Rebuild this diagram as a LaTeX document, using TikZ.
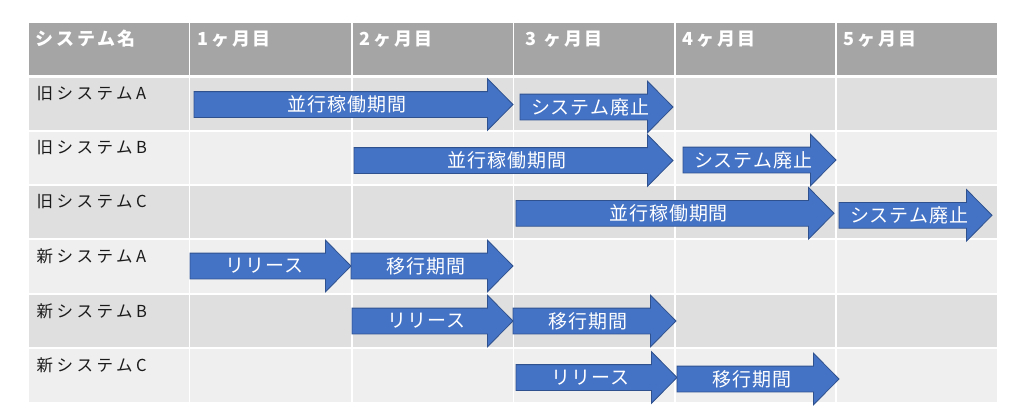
\documentclass[tikz,border=0pt]{standalone}
\usepackage{fontspec}
\setmainfont{Noto Sans CJK JP}
\newfontfamily\lblfont[LetterSpace=21]{Noto Sans CJK JP}
\newfontfamily\hdrfont[LetterSpace=15]{Noto Sans CJK JP}
\newfontfamily\arrfont[LetterSpace=5]{Noto Sans CJK JP}
\definecolor{hdrgray}{HTML}{A5A5A5}
\definecolor{rowdark}{HTML}{DFDFDF}
\definecolor{rowlight}{HTML}{EFEFEF}
\definecolor{arrfill}{HTML}{4472C4}
\definecolor{arrline}{HTML}{2F528F}
\definecolor{lbltext}{HTML}{1A1A1A}
\tikzset{
  hdrtext/.style={anchor=west, inner sep=0pt, text=white, font=\hdrfont\bfseries\fontsize{18}{21}\selectfont},
  lbltextstyle/.style={anchor=west, inner sep=0pt, text=lbltext, font=\lblfont\fontsize{16.5}{19}\selectfont},
  arrowshape/.style={fill=arrfill, draw=arrline, line width=0.8pt, line join=miter},
  arrowtext/.style={inner sep=0pt, text=white, font=\arrfont\fontsize{19}{22}\selectfont},
  gridline/.style={draw=white, line width=1.6pt},
}
\newcommand\blockarrow[5]{%
  \draw[arrowshape] (#2,#4-12.9) -- (#3-25.5,#4-12.9) -- (#3-25.5,#4-25.8) -- (#3,#4)
    -- (#3-25.5,#4+25.8) -- (#3-25.5,#4+12.9) -- (#2,#4+12.9) -- cycle;
  \node[arrowtext] (#1) at ({(2*#2+#3-25.5+#3)/4},#4) {#5};
}
\begin{document}
\begin{tikzpicture}[x=1pt,y=-1pt]
\fill[white] (0,0) rectangle (1024,416);
\useasboundingbox (0,0) rectangle (1024,416);
% table body
\fill[hdrgray] (29,23) rectangle (997,76);
\fill[rowdark]  (29,76)  rectangle (997,131);
\fill[rowlight] (29,131) rectangle (997,185);
\fill[rowdark]  (29,185) rectangle (997,239);
\fill[rowlight] (29,239) rectangle (997,294);
\fill[rowdark]  (29,294) rectangle (997,348);
\fill[rowlight] (29,348) rectangle (997,402);
% grid lines
\draw[gridline, line width=2.6pt] (29,76.5) -- (997,76.5);
\foreach \yy in {131,185,239,294,348} \draw[gridline] (29,\yy) -- (997,\yy);
\foreach \xx in {189.5,352,513.5,675,836} \draw[gridline] (\xx,23) -- (\xx,402);
% header
\node[hdrtext] (h0) at (35.5,39) {システム名};
\node[hdrtext] (h1) at (197.5,39) {1ヶ月目};
\node[hdrtext] (h2) at (359.5,39) {2ヶ月目};
\node[hdrtext] (h3) at (525.5,39) {3 ヶ月目};
\node[hdrtext] (h4) at (682.5,39) {4ヶ月目};
\node[hdrtext] (h5) at (843.5,39) {5ヶ月目};
% row labels
\node[lbltextstyle] (r1) at (36.5,94) {旧システムA};
\node[lbltextstyle] (r2) at (36.5,148) {旧システムB};
\node[lbltextstyle] (r3) at (36.5,202) {旧システムC};
\node[lbltextstyle] (r4) at (36.5,256) {新システムA};
\node[lbltextstyle] (r5) at (36.5,311) {新システムB};
\node[lbltextstyle] (r6) at (36.5,365) {新システムC};
% arrows
\blockarrow{a1}{194}{513}{104.5}{並行稼働期間}
\blockarrow{a2}{520}{673}{107}{システム廃止}
\blockarrow{a3}{354}{673}{160.5}{並行稼働期間}
\blockarrow{a4}{683}{836}{160}{システム廃止}
\blockarrow{a5}{516}{834}{213.3}{並行稼働期間}
\blockarrow{a6}{839}{992}{215.3}{システム廃止}
\blockarrow{a7}{190}{351}{266}{リリース}
\blockarrow{a8}{351}{513}{266}{移行期間}
\blockarrow{a9}{352}{513}{321}{リリース}
\blockarrow{a10}{513}{676}{321}{移行期間}
\blockarrow{a11}{516}{677}{377.5}{リリース}
\blockarrow{a12}{677}{839}{379}{移行期間}
\end{tikzpicture}
\end{document}
